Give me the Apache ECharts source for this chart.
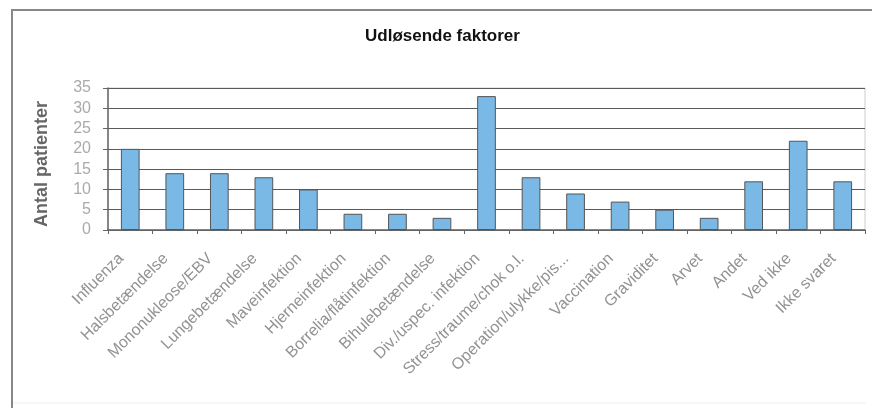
<!DOCTYPE html>
<html>
<head>
<meta charset="utf-8">
<script src="https://cdn.jsdelivr.net/npm/echarts@6/dist/echarts.min.js"></script>
<style>
  html, body { margin: 0; padding: 0; background: #fff; }
  #chart { width: 872px; height: 409px; }
</style>
</head>
<body>
<div id="chart"></div>
<script>
// Triggering factors reported by patients
const categories = [
  'Influenza', 'Halsbetændelse', 'Mononukleose/EBV', 'Lungebetændelse',
  'Maveinfektion', 'Hjerneinfektion', 'Borrelia/flåtinfektion', 'Bihulebetændelse',
  'Div./uspec. infektion', 'Stress/traume/chok o.l.', 'Operation/ulykke/pis...',
  'Vaccination', 'Graviditet', 'Arvet', 'Andet', 'Ved ikke', 'Ikke svaret'
];
const patients = [20, 14, 14, 13, 10, 4, 4, 3, 33, 13, 9, 7, 5, 3, 12, 22, 12];
const yTicks = [0, 5, 10, 15, 20, 25, 30, 35];

const chart = echarts.init(document.getElementById('chart'), null, { renderer: 'canvas' });

chart.setOption({
  animation: false,
  backgroundColor: '#fff',
  title: {
    text: 'Udløsende faktorer',
    left: 360,
    top: 23,
    textStyle: {
      fontFamily: 'Liberation Sans', fontSize: 17, fontWeight: 'bold',
      color: '#111', letterSpacing: 2.8
    }
  },
  graphic: [{
    type: 'polyline',
    shape: { points: [[12, 408], [12, 10], [872, 10]] },
    style: { stroke: '#888', lineWidth: 2, fill: null },
    silent: true
  }, {
    type: 'line',
    shape: { x1: 13, y1: 403, x2: 866, y2: 403 },
    style: { stroke: '#eee', lineWidth: 1 },
    silent: true
  }],
  grid: {
    left: 108, right: 7, top: 88, bottom: 179,
    show: true, borderColor: '#ccc', borderWidth: 1
  },
  xAxis: {
    type: 'category',
    data: categories,
    axisLine: { lineStyle: { color: '#666', width: 1.5 } },
    axisTick: { show: true, alignWithLabel: false, length: 4, lineStyle: { color: '#666' } },
    axisLabel: {
      interval: 0, rotate: 45, margin: 17,
      padding: [0, 13, 0, 0],
      fontFamily: 'Liberation Sans', fontSize: 16, color: '#929292', letterSpacing: 1.4
    }
  },
  yAxis: {
    type: 'value',
    min: yTicks[0], max: yTicks[yTicks.length - 1], interval: 5,
    name: 'Antal patienter',
    nameLocation: 'middle',
    nameGap: 57,
    nameTextStyle: {
      fontFamily: 'Liberation Sans', fontSize: 18, fontWeight: 'bold', color: '#666',
      padding: [0, 10, 0, 0]
    },
    axisLine: { show: true, lineStyle: { color: '#666', width: 1.5 } },
    axisTick: { show: true, length: 5, lineStyle: { color: '#666' } },
    axisLabel: {
      margin: 17, fontFamily: 'Liberation Sans', fontSize: 16, color: '#aaa'
    },
    splitLine: { lineStyle: { color: '#5a5a5a', width: 1.2 } }
  },
  series: [{
    type: 'bar',
    data: patients,
    barWidth: '42%',
    itemStyle: { color: '#7ab8e6', borderColor: '#555', borderWidth: 1 }
  }]
});
</script>
</body>
</html>
